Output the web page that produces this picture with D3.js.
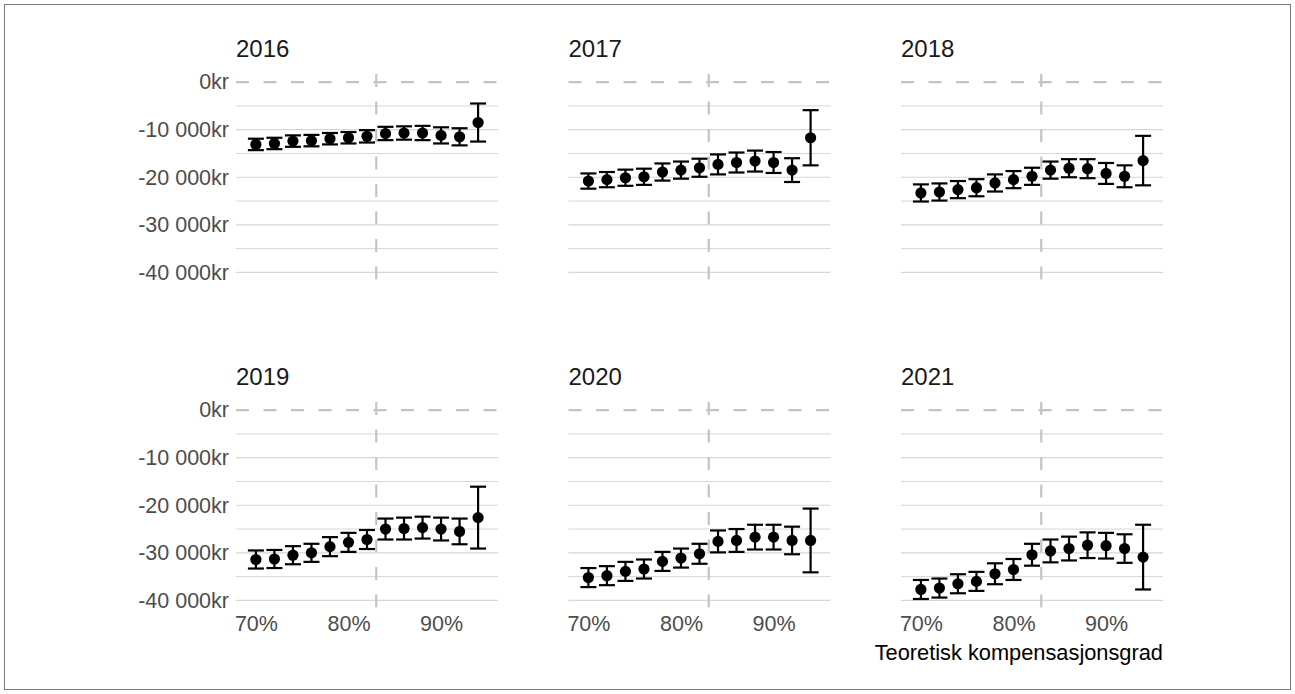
<!DOCTYPE html>
<html>
<head>
<meta charset="utf-8">
<script src="https://cdn.jsdelivr.net/npm/d3@7"></script>
<style>
  html, body { margin: 0; padding: 0; background: #ffffff; }
  svg { display: block; font-family: "Liberation Sans", Arial, sans-serif; }
</style>
</head>
<body>
<svg id="chart" width="1295" height="694"></svg>
<script>
// ---- data ----
const years = ["2016", "2017", "2018", "2019", "2020", "2021"];
const xValues = [70, 72, 74, 76, 78, 80, 82, 84, 86, 88, 90, 92, 94];
const mean2016 = [-13100, -12900, -12400, -12300, -11900, -11700, -11400, -10800, -10700, -10700, -11200, -11500, -8500];
const err2016  = [1200, 1200, 1200, 1200, 1200, 1200, 1300, 1400, 1400, 1500, 1700, 1800, 4000];
const mean2017 = [-20800, -20500, -20100, -19900, -18900, -18500, -18000, -17300, -16900, -16600, -16900, -18500, -11700];
const err2017  = [1600, 1600, 1700, 1700, 1800, 1800, 1900, 2100, 2100, 2200, 2200, 2500, 5800];
const mean2018 = [-23300, -23100, -22600, -22200, -21200, -20500, -19800, -18500, -18100, -18200, -19200, -19800, -16500];
const err2018  = [1800, 1800, 1800, 1800, 1800, 1800, 1800, 1800, 1900, 2000, 2200, 2300, 5200];
const mean2019 = [-31400, -31300, -30500, -30000, -28700, -27800, -27200, -25000, -24900, -24700, -25000, -25500, -22600];
const err2019  = [1900, 1900, 1900, 1900, 2000, 2000, 2000, 2200, 2300, 2300, 2400, 2700, 6500];
const mean2020 = [-35200, -34800, -33900, -33400, -31800, -31100, -30200, -27600, -27400, -26700, -26700, -27400, -27400];
const err2020  = [2000, 2000, 2000, 2000, 2000, 2000, 2100, 2300, 2400, 2600, 2600, 2900, 6700];
const mean2021 = [-37700, -37400, -36500, -36000, -34400, -33500, -30400, -29600, -29100, -28400, -28500, -29100, -30900];
const err2021  = [2000, 2000, 2000, 2000, 2200, 2200, 2300, 2400, 2500, 2700, 2700, 3000, 6800];
const yTicks = [0, -10000, -20000, -30000, -40000];
const yTickLabels = ["0kr", "-10 000kr", "-20 000kr", "-30 000kr", "-40 000kr"];
const yMinorTicks = [-5000, -15000, -25000, -35000];
const xTicks = [70, 80, 90];
const xTickLabels = ["70%", "80%", "90%"];
const refX = 83;   // vertical dashed reference line
const refY = 0;    // horizontal dashed reference line
const xTitle = "Teoretisk kompensasjonsgrad";

const means = [mean2016, mean2017, mean2018, mean2019, mean2020, mean2021];
const errs = [err2016, err2017, err2018, err2019, err2020, err2021];

// ---- layout ----
const svg = d3.select("#chart");
const panelW = 262, panelH = 206.5;
const colLeft = [236, 568.5, 901];
const rowTop = [74, 402];

svg.append("rect")
  .attr("x", 4.5).attr("y", 4.5)
  .attr("width", 1286).attr("height", 685)
  .attr("fill", "none").attr("stroke", "#7a7a7a").attr("stroke-width", 1);

const x = d3.scaleLinear().domain([67.85, 96.15]).range([0, panelW]);
const y = d3.scaleLinear().domain([-41700, 1700]).range([panelH, 0]);

const gridColor = "#d6d6d6";
const dashColor = "#c3c3c3";

years.forEach((yr, i) => {
  const col = i % 3, row = Math.floor(i / 3);
  const g = svg.append("g").attr("transform", `translate(${colLeft[col]},${rowTop[row]})`);

  // grid lines
  g.selectAll("line.minor").data(yMinorTicks).enter().append("line")
    .attr("x1", 0).attr("x2", panelW)
    .attr("y1", d => y(d)).attr("y2", d => y(d))
    .attr("stroke", gridColor).attr("stroke-width", 1);
  g.selectAll("line.major").data(yTicks.filter(t => t !== refY)).enter().append("line")
    .attr("x1", 0).attr("x2", panelW)
    .attr("y1", d => y(d)).attr("y2", d => y(d))
    .attr("stroke", gridColor).attr("stroke-width", 1.2);

  // reference lines
  g.append("line")
    .attr("x1", 0).attr("x2", panelW).attr("y1", y(refY)).attr("y2", y(refY))
    .attr("stroke", dashColor).attr("stroke-width", 2.2).attr("stroke-dasharray", "13,14.5");
  g.append("line")
    .attr("x1", x(refX)).attr("x2", x(refX)).attr("y1", 0).attr("y2", panelH)
    .attr("stroke", dashColor).attr("stroke-width", 2.2).attr("stroke-dasharray", "13,14.5");

  // title
  svg.append("text")
    .attr("x", colLeft[col]).attr("y", rowTop[row] - 17)
    .attr("font-size", 24).attr("fill", "#1a1a1a").text(yr);

  // y axis labels (left column)
  if (col === 0) {
    const ya = d3.axisLeft(y).tickValues(yTicks).tickSize(0).tickPadding(7)
      .tickFormat((d, k) => yTickLabels[k]);
    const ag = g.append("g").call(ya);
    ag.select(".domain").remove();
    ag.selectAll("text").attr("font-size", 21.5).attr("fill", "#4d4d4d")
      .attr("font-family", "Liberation Sans, Arial, sans-serif");
  }
  // x axis labels (bottom row)
  if (row === 1) {
    const xa = d3.axisBottom(x).tickValues(xTicks).tickSize(0).tickPadding(7)
      .tickFormat((d, k) => xTickLabels[k]);
    const ag = g.append("g").attr("transform", `translate(0,${panelH})`).call(xa);
    ag.select(".domain").remove();
    ag.selectAll("text").attr("font-size", 21.5).attr("fill", "#4d4d4d")
      .attr("font-family", "Liberation Sans, Arial, sans-serif");
  }

  // data
  const data = xValues.map((xv, k) => ({ x: xv, m: means[i][k], e: errs[i][k] }));
  const capHalf = 8;
  const eb = g.selectAll("g.eb").data(data).enter().append("g");
  eb.append("line")
    .attr("x1", d => x(d.x)).attr("x2", d => x(d.x))
    .attr("y1", d => y(d.m + d.e)).attr("y2", d => y(d.m - d.e))
    .attr("stroke", "#000").attr("stroke-width", 2.2);
  eb.append("line")
    .attr("x1", d => x(d.x) - capHalf).attr("x2", d => x(d.x) + capHalf)
    .attr("y1", d => y(d.m + d.e)).attr("y2", d => y(d.m + d.e))
    .attr("stroke", "#000").attr("stroke-width", 2.2);
  eb.append("line")
    .attr("x1", d => x(d.x) - capHalf).attr("x2", d => x(d.x) + capHalf)
    .attr("y1", d => y(d.m - d.e)).attr("y2", d => y(d.m - d.e))
    .attr("stroke", "#000").attr("stroke-width", 2.2);
  eb.append("circle")
    .attr("cx", d => x(d.x)).attr("cy", d => y(d.m)).attr("r", 5.6)
    .attr("fill", "#000");
});

// x axis title
svg.append("text")
  .attr("x", colLeft[2] + panelW).attr("y", 660)
  .attr("text-anchor", "end").attr("font-size", 21.8).attr("fill", "#000")
  .text(xTitle);
</script>
</body>
</html>
